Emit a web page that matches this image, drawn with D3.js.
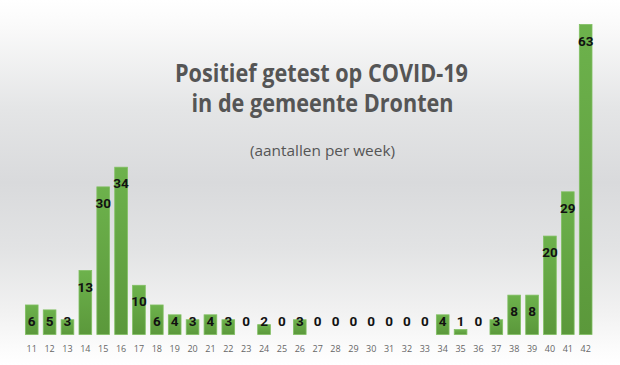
<!DOCTYPE html>
<html>
<head>
<meta charset="utf-8">
<script src="https://cdn.jsdelivr.net/npm/d3@7"></script>
<style>
  html, body { margin: 0; padding: 0; background: #fff; }
  svg { display: block; }
</style>
</head>
<body>
<svg id="chart" width="620" height="365"></svg>
<script>
const weeks = [11,12,13,14,15,16,17,18,19,20,21,22,23,24,25,26,27,28,29,30,31,32,33,34,35,36,37,38,39,40,41,42];
const cases = [6,5,3,13,30,34,10,6,4,3,4,3,0,2,0,3,0,0,0,0,0,0,0,4,1,0,3,8,8,20,29,63];
const titleLines = ["Positief getest op COVID-19", "in de gemeente Dronten"];
const subtitle = "(aantallen per week)";

const W = 620, H = 365;
const svg = d3.select("#chart");
const defs = svg.append("defs");

const bg = defs.append("linearGradient").attr("id", "bg").attr("x1", 0).attr("y1", 0).attr("x2", 0).attr("y2", 1);
[[0, "#ffffff"], [0.07, "#fafafa"], [0.3, "#e4e5e6"], [0.5, "#d9dadc"], [0.68, "#e2e3e4"], [0.85, "#f1f1f1"], [0.95, "#fbfbfb"], [1, "#ffffff"]]
  .forEach(([o, c]) => bg.append("stop").attr("offset", o).attr("stop-color", c));

const barG = defs.append("linearGradient").attr("id", "barg").attr("x1", 0).attr("y1", 0).attr("x2", 0).attr("y2", 1);
[[0, "#6db24c"], [1, "#5b983b"]].forEach(([o, c]) => barG.append("stop").attr("offset", o).attr("stop-color", c));

svg.append("rect").attr("width", W).attr("height", H).attr("fill", "url(#bg)");

const x = d3.scaleBand().domain(weeks).range([22.8, 594.6]).paddingInner(0.29).paddingOuter(0.145);
const y = d3.scaleLinear().domain([0, 63]).range([334.5, 24.5]);

const data = weeks.map((w, i) => ({ w, v: cases[i] }));

svg.append("g").selectAll("rect").data(data).join("rect")
  .attr("x", d => x(d.w))
  .attr("y", d => y(d.v))
  .attr("width", x.bandwidth())
  .attr("height", d => y(0) - y(d.v))
  .attr("fill", "url(#barg)")
  .attr("stroke", d => d.v > 0 ? "#80bf62" : "none")
  .attr("stroke-width", 0.8);

svg.append("g").selectAll("text").data(data).join("text")
  .attr("x", d => x(d.w) + x.bandwidth() / 2)
  .attr("y", d => Math.min(y(d.v) + 16, y(0) - 14) + 5)
  .attr("text-anchor", "middle")
  .attr("font-family", "Roboto, 'Liberation Sans', sans-serif")
  .attr("font-weight", "bold")
  .attr("font-size", 13.5)
  .attr("fill", "#111")
  .text(d => d.v);

const axis = d3.axisBottom(x).tickSize(0).tickPadding(0);
const ax = svg.append("g").attr("transform", `translate(0, ${y(0)})`).call(axis);
ax.select(".domain").remove();
ax.selectAll("text")
  .attr("y", 17.5)
  .attr("dy", 0)
  .attr("font-family", "'Open Sans', sans-serif")
  .attr("font-size", 9)
  .attr("fill", "#666");

const tg = svg.append("g").attr("font-family", "'Open Sans', sans-serif").attr("fill", "#555");
tg.append("text").attr("x", 321.5).attr("y", 81.5).attr("text-anchor", "middle")
  .attr("font-size", 24.5).attr("font-weight", "bold")
  .attr("textLength", 293).attr("lengthAdjust", "spacingAndGlyphs").text(titleLines[0]);
tg.append("text").attr("x", 322.5).attr("y", 111.5).attr("text-anchor", "middle")
  .attr("font-size", 24.5).attr("font-weight", "bold")
  .attr("textLength", 262).attr("lengthAdjust", "spacingAndGlyphs").text(titleLines[1]);
tg.append("text").attr("x", 322.5).attr("y", 155.5).attr("text-anchor", "middle")
  .attr("font-size", 15)
  .attr("textLength", 145).attr("lengthAdjust", "spacingAndGlyphs").text(subtitle);
</script>
</body>
</html>
